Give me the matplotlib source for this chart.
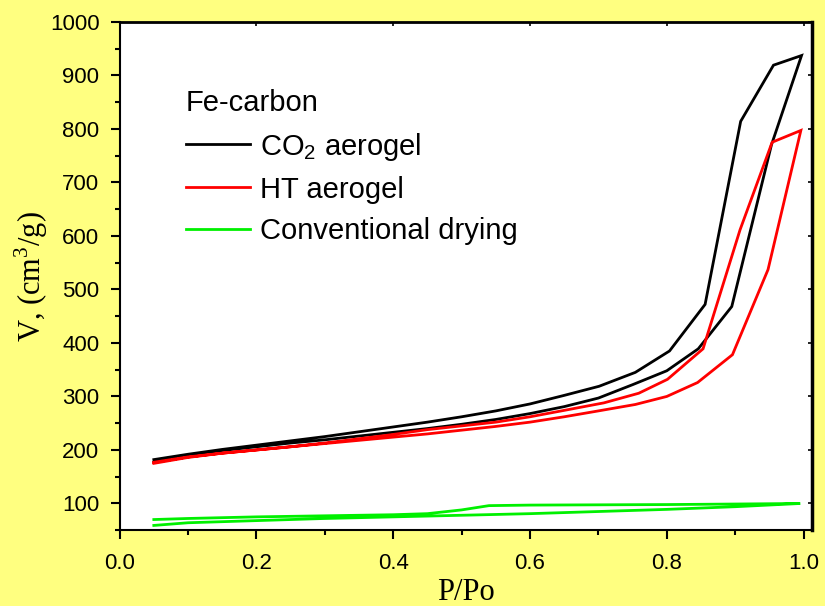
import matplotlib
matplotlib.use("Agg")
import matplotlib.pyplot as plt
from matplotlib.ticker import MultipleLocator, FormatStrFormatter

# ---- data ----
co2_ads_p = [0.05, 0.10, 0.15, 0.20, 0.25, 0.30, 0.35, 0.40, 0.45, 0.50, 0.55, 0.60,
             0.65, 0.70, 0.75, 0.80, 0.846, 0.895, 0.953, 0.997]
co2_ads_v = [177, 190, 199, 206, 213, 219, 226, 233, 240, 248, 257, 268,
             281, 297, 322, 348, 389, 468, 770, 937]
co2_des_p = [0.997, 0.956, 0.908, 0.856, 0.804, 0.754, 0.701, 0.65, 0.60, 0.55, 0.50,
             0.45, 0.40, 0.35, 0.30, 0.25, 0.20, 0.15, 0.10, 0.05]
co2_des_v = [937, 919, 814, 472, 385, 345, 319, 302, 286, 273, 262,
             252, 243, 234, 225, 217, 209, 201, 192, 182]

ht_ads_p = [0.05, 0.10, 0.15, 0.20, 0.25, 0.30, 0.35, 0.40, 0.45, 0.50, 0.55, 0.60,
            0.65, 0.70, 0.754, 0.80, 0.845, 0.896, 0.948, 0.996]
ht_ads_v = [175, 186, 194, 200, 206, 212, 218, 224, 230, 237, 244, 252,
            262, 273, 285, 300, 326, 378, 537, 797]
ht_des_p = [0.996, 0.954, 0.907, 0.853, 0.801, 0.759, 0.708, 0.65, 0.60, 0.55, 0.50,
            0.45, 0.40, 0.35, 0.30, 0.25, 0.20, 0.15, 0.10, 0.05]
ht_des_v = [797, 775, 611, 389, 332, 306, 288, 274, 262, 252, 245,
            238, 229, 221, 213, 206, 200, 194, 187, 177]

conv_ads_p = [0.05, 0.10, 0.20, 0.30, 0.40, 0.50, 0.60, 0.70, 0.80, 0.90, 0.995]
conv_ads_v = [59, 64, 68, 72, 75, 78, 81, 85, 89, 94, 100]
conv_des_p = [0.995, 0.90, 0.80, 0.70, 0.60, 0.54, 0.50, 0.45, 0.40, 0.30, 0.20, 0.10, 0.05]
conv_des_v = [100, 99, 98, 97.5, 97, 96, 88, 81, 79, 77, 75, 72, 70]

series_labels = ["CO$_\\mathregular{2}$ aerogel", "HT aerogel", "Conventional drying"]
series_colors = ["#000000", "#FF0000", "#00F000"]
legend_title = "Fe-carbon"
x_label = "P/Po"
y_label = "V, (cm$^\\mathregular{3}$/g)"

# ---- figure ----
bg = "#FFFF80"
fig = plt.figure(figsize=(8.25, 6.06), dpi=100, facecolor=bg)
ax = fig.add_axes([0.145, 0.125, 0.839, 0.839])
ax.set_facecolor("white")

sans = "Liberation Sans"
serif = "Liberation Serif"

curves = [
    (co2_ads_p + co2_des_p, co2_ads_v + co2_des_v),
    (ht_ads_p + ht_des_p, ht_ads_v + ht_des_v),
    (conv_ads_p + conv_des_p, conv_ads_v + conv_des_v),
]
handles = []
for (px, vy), lab, col in zip(curves, series_labels, series_colors):
    h, = ax.plot(px, vy, color=col, lw=2.0, label=lab, solid_joinstyle="miter")
    handles.append(h)

ax.set_xlim(0, 1.012)
ax.set_ylim(50, 1000)
ax.xaxis.set_major_locator(MultipleLocator(0.2))
ax.xaxis.set_minor_locator(MultipleLocator(0.1))
ax.set_yticks(range(100, 1001, 100))
ax.yaxis.set_minor_locator(MultipleLocator(50))
ax.xaxis.set_major_formatter(FormatStrFormatter("%.1f"))

ax.tick_params(which="major", direction="out", length=6.5, width=1.5,
               labelsize=16)
ax.tick_params(axis="x", which="major", pad=10)
ax.tick_params(axis="y", which="major", pad=8)
ax.tick_params(which="minor", direction="out", length=3.5, width=1.5)
for lab in ax.get_xticklabels() + ax.get_yticklabels():
    lab.set_fontfamily(sans)

# inner ticks on top/right
axt = ax.secondary_xaxis("top")
axt.set_xticks([0.2, 0.4, 0.6, 0.8, 1.0])
axt.tick_params(direction="in", length=3, width=1.2, labeltop=False)
axr = ax.secondary_yaxis("right")
axr.set_yticks(range(100, 1001, 100))
axr.tick_params(direction="in", length=3, width=1.2, labelright=False)

for s in ax.spines.values():
    s.set_linewidth(1.5)
ax.spines["right"].set_linewidth(2.5)
ax.spines["top"].set_linewidth(2.0)

ax.set_xlabel(x_label, fontsize=22, fontfamily=serif, labelpad=3)
ax.set_ylabel(y_label, fontsize=22, fontfamily=serif, labelpad=0)

leg = ax.legend(handles=handles, title=legend_title, loc="upper left",
                bbox_to_anchor=(0.096, 0.867), frameon=False,
                prop={"family": sans, "size": 21},
                title_fontproperties={"family": sans, "size": 21},
                handlelength=2.2, handletextpad=0.35, labelspacing=0.45,
                borderpad=0, borderaxespad=0)
leg._legend_box.align = "left"

fig.savefig("out.png", dpi=100, facecolor=bg)
